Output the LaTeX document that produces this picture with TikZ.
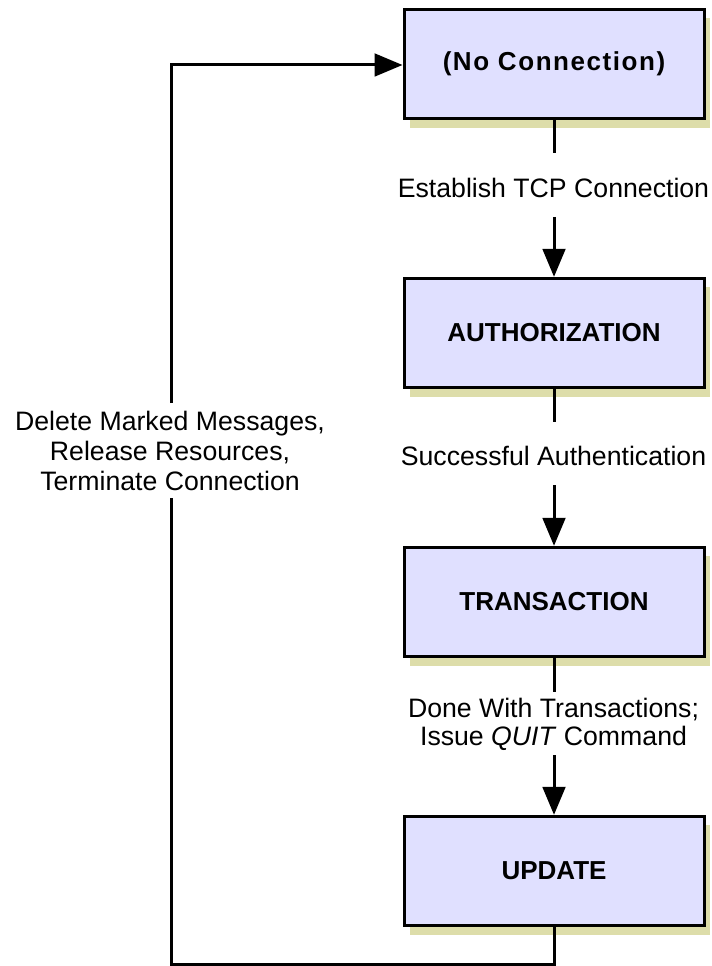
\documentclass[tikz,border=0pt]{standalone}
\usepackage{fontspec}
\setmainfont{Liberation Sans}
\usetikzlibrary{arrows.meta,shadows}
\definecolor{boxfill}{RGB}{224,224,255}
\definecolor{shadowc}{RGB}{221,221,170}
\begin{document}
\begin{tikzpicture}[x=0.75pt,y=-0.75pt,
  statebox/.style={draw=black,line width=2.25pt,fill=boxfill,
    minimum width=225pt,minimum height=82pt,inner sep=0pt,
    font=\fontsize{19.5}{22}\selectfont\bfseries,
    drop shadow={shadow xshift=4.5pt,shadow yshift=-6.75pt,fill=shadowc,opacity=1}},
  lbl/.style={inner sep=0pt,align=center,font=\fontsize{20}{21}\selectfont},
  conn/.style={line width=2.25pt},
  arr/.style={line width=2.25pt,-{Triangle[length=21pt,width=17pt]}}]
\useasboundingbox (0,0) rectangle (712,966);
% boxes
\node[statebox] (b1) at (554,64) {\addfontfeature{LetterSpace=6}(No Connection)};
\node[statebox] (b2) at (554,333) {AUTHORIZATION};
\node[statebox] (b3) at (554,602) {TRANSACTION};
\node[statebox] (b4) at (554,871) {UPDATE};
% labels
\node[lbl] (l1) at (553.5,188) {Establish TCP Connection};
\node[lbl] (l2) at (553.5,456) {Successful Authentication};
\node[lbl] (l3) at (553.5,724) {Done With Transactions;\\Issue \textit{QUIT} Command};
\node[lbl,font=\fontsize{20}{22.8}\selectfont] (l4) at (170,451) {Delete Marked Messages,\\Release Resources,\\Terminate Connection};
% connector points
\coordinate (s1) at (554,153);
\coordinate (a1) at (554,217);
\coordinate (s2) at (554,422);
\coordinate (a2) at (554,485);
\coordinate (s3) at (554,692);
\coordinate (a3) at (554,755);
\coordinate (c1) at (554,964.5);
\coordinate (c2) at (171,964.5);
\coordinate (c3) at (171,498);
\coordinate (c4) at (171,403);
\coordinate (c5) at (171,65);
% connectors
\draw[conn] (b1.south) -- (s1);
\draw[arr] (a1) -- (b2.north);
\draw[conn] (b2.south) -- (s2);
\draw[arr] (a2) -- (b3.north);
\draw[conn] (b3.south) -- (s3);
\draw[arr] (a3) -- (b4.north);
\draw[conn] (b4.south) -- (c1) -- (c2) -- (c3);
\draw[arr] (c4) -- (c5) -- (c5 -| b1.west);
\end{tikzpicture}
\end{document}
